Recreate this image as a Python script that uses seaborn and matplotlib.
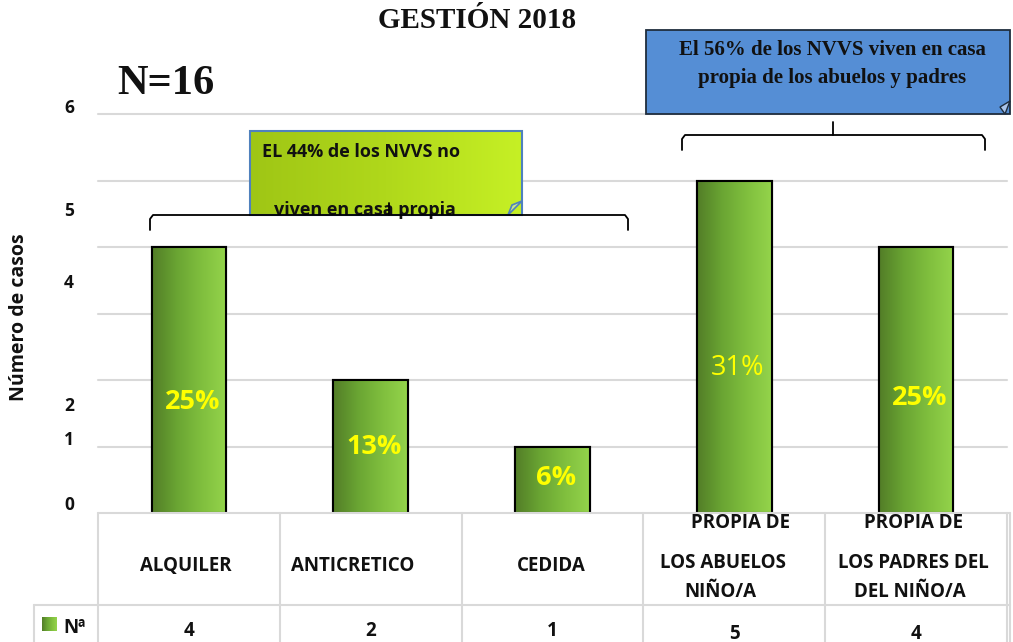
import numpy as np
import pandas as pd
import matplotlib
matplotlib.use("Agg")
import matplotlib.pyplot as plt
import seaborn as sns
from matplotlib.colors import LinearSegmentedColormap
from matplotlib.patches import Rectangle, Polygon
import matplotlib.transforms as mtrans

# ---- data ----
categories = ["ALQUILER", "ANTICRETICO", "CEDIDA",
              "PROPIA DE LOS ABUELOS NIÑO/A", "PROPIA DE LOS PADRES DEL DEL NIÑO/A"]
cat_label_lines = [["ALQUILER"], ["ANTICRETICO"], ["CEDIDA"],
                   ["PROPIA DE", "LOS ABUELOS", "NIÑO/A"],
                   ["PROPIA DE", "LOS PADRES DEL", "DEL NIÑO/A"]]
values = [4, 2, 1, 5, 4]
pct_labels = ["25%", "13%", "6%", "31%", "25%"]
ytick_labels = ["0", "1", "2", "4", "5", "6"]
title = "GESTIÓN 2018"
n_label = "N=16"
series_name = "Nª"
note_left = ["EL 44% de los NVVS no", "viven en casa propia"]
note_right = ["El 56% de los NVVS viven en casa", "propia de los abuelos y padres"]

df = pd.DataFrame({"cat": categories, "n": values})

sns.set_theme(style="white")
SANS = ['Open Sans', 'DejaVu Sans']
SERIF = ['Liberation Serif', 'DejaVu Serif']
plt.rcParams['font.family'] = SANS

W, H = 1013, 642
fig = plt.figure(figsize=(W / 100, H / 100), dpi=100)

def fx(px):
    return px / W

def fy(py):
    return 1 - py / H

ax_l, ax_r, ax_t, ax_b = 98, 1007, 114, 513
ax = fig.add_axes([fx(ax_l), fy(ax_b), fx(ax_r - ax_l), fy(ax_t) - fy(ax_b)])

sns.barplot(data=df, x="cat", y="n", ax=ax, width=0.41, color="#72ad38",
            edgecolor="black", linewidth=1.5, zorder=3)
ax.set_xlim(-0.5, len(categories) - 0.5)
ax.set_ylim(0, 6)
for v in range(1, 7):
    ax.axhline(v, color="#d9d9d9", lw=1.5, zorder=0, clip_on=False)
for s in ax.spines.values():
    s.set_visible(False)
ax.set_xlabel("")
ax.set_ylabel("")
ax.set_xticks([])
ax.set_yticks([])
# tick labels placed where the original shows them
ytick_pos = [0.12, 1.10, 1.61, 3.46, 4.54, 6.09]
tr = mtrans.blended_transform_factory(fig.transFigure, ax.transData)
for pos, lab in zip(ytick_pos, ytick_labels):
    ax.text(fx(69), pos, lab, transform=tr, ha="center", va="center", fontsize=12.5,
            fontweight="bold", color="#111111", clip_on=False)

# gradient fill for bars
cmap = LinearSegmentedColormap.from_list("g", ["#527d27", "#6aa533", "#80bf3e", "#94d44b"])
grad = np.linspace(0, 1, 256).reshape(1, -1)
for p in list(ax.patches):
    x0, y0 = p.get_x(), p.get_y()
    w, h = p.get_width(), p.get_height()
    im = ax.imshow(grad, cmap=cmap, aspect="auto", extent=[x0, x0 + w, y0, y0 + h],
                   zorder=3.5, origin="lower")
    im.set_clip_path(p)
    ax.add_patch(Rectangle((x0, y0), w, h, fill=False, ec="black", lw=1.5, zorder=4))
ax.set_xlim(-0.5, len(categories) - 0.5)
ax.set_ylim(0, 6)

# percentage labels
pct_y = [1.67, 1.0, 0.52, 2.18, 1.73]
for i, (lab, yv) in enumerate(zip(pct_labels, pct_y)):
    ax.text(i + 0.02, yv, lab, ha="center", va="center", color="#ffff00",
            fontsize=19.5, fontweight="normal" if i == 3 else "bold", zorder=5)

# overlay axes in pixel coordinates
ov = fig.add_axes([0, 0, 1, 1], zorder=10)
ov.set_xlim(0, W)
ov.set_ylim(H, 0)
ov.axis("off")
ov.patch.set_alpha(0)

# table
gc = "#d9d9d9"
cols = np.linspace(ax_l, ax_r, len(categories) + 1)
ov.plot([ax_l, ax_r + 3], [ax_b, ax_b], color=gc, lw=1.5)
ov.plot([34, ax_r + 3], [605, 605], color=gc, lw=1.5)
for xc in cols:
    ov.plot([xc, xc], [ax_b, H], color=gc, lw=1.5)
ov.plot([34, 34], [605, H], color=gc, lw=1.5)
ov.plot([ax_r + 3, ax_r + 3], [ax_b, H], color=gc, lw=1.5)

label_y = {1: [566], 3: [523, 563, 592]}
label_dx = [[-3], [-18], [-1], [6, -11, -14], [-3, -3, -6]]
for i, lines in enumerate(cat_label_lines):
    cx = (cols[i] + cols[i + 1]) / 2
    ys = label_y[len(lines)]
    for ln, yy, dx in zip(lines, ys, label_dx[i]):
        ov.text(cx + dx, yy, ln, ha="center", va="center",
                fontsize=13.5, fontweight="bold", color="#111111")
    ov.text(cx, 631 if i < 3 else 634, str(values[i]), ha="center", va="center",
            fontsize=13.5, fontweight="bold", color="#111111")

# legend key in table
lg = Rectangle((42, 617), 15, 14, transform=ov.transData)
ov.add_patch(lg)
imk = ov.imshow(grad, cmap=cmap, aspect="auto", extent=[42, 57, 631, 617], zorder=3)
imk.set_clip_path(lg)
lg.set_visible(False)
ov.text(63, 628, series_name, ha="left", va="center", fontsize=13.5, fontweight="bold", color="#111111")

# titles
ov.text(477, 21, title, ha="center", va="center", fontsize=21, fontweight="bold",
        family=SERIF, color="#111111")
ov.text(117, 84, n_label, ha="left", va="center", fontsize=30.5, fontweight="bold",
        family=SERIF, color="#111111")
ov.text(19, 317, "Número de casos", ha="center", va="center", rotation=90,
        fontsize=14, fontweight="bold", color="#111111")

# left note (green gradient box)
bx0, by0, bx1, by1 = 250, 131, 522, 215
ggrad = np.linspace(0, 1, 256).reshape(1, -1)
gcmap = LinearSegmentedColormap.from_list("y", ["#9fc615", "#b0d81b", "#c6f025"])
box = Rectangle((bx0, by0), bx1 - bx0, by1 - by0, transform=ov.transData,
                fc="none", ec="#4f81bd", lw=1.5, zorder=6)
ov.imshow(ggrad, cmap=gcmap, aspect="auto", extent=[bx0, bx1, by1, by0], zorder=5)
ov.add_patch(box)
ov.add_patch(Polygon([[bx1 - 14, by1], [bx1, by1 - 14], [bx1 - 10, by1 - 10]], closed=True,
                     fc="#c6e88a", ec="#4f81bd", lw=1.2, zorder=6))
ov.text(262, 152, note_left[0], ha="left", va="center", fontsize=13, fontweight="bold",
        color="#111111", zorder=7)
ov.text(274, 210, note_left[1], ha="left", va="center", fontsize=13, fontweight="bold",
        color="#111111", zorder=7)

# left brace
ov.plot([150, 150, 153, 625, 628, 628], [230, 219, 215, 215, 219, 230], color="black", lw=1.3, zorder=8)
ov.plot([389, 389], [215, 203], color="black", lw=1.3, zorder=8)

# right note (blue box)
rb = Rectangle((646, 30), 364, 84, transform=ov.transData, fc="#558ed5", ec="#1f2d3d",
               lw=1.3, zorder=5)
ov.add_patch(rb)
ov.add_patch(Polygon([[1005, 114], [1010, 101], [1000, 107]], closed=True,
                     fc="#a9c4ea", ec="#1f2d3d", lw=1.0, zorder=6))
ov.text(832, 50, note_right[0], ha="center", va="center", fontsize=15, fontweight="bold",
        family=SERIF, color="#111111", zorder=7)
ov.text(832, 78, note_right[1], ha="center", va="center", fontsize=15, fontweight="bold",
        family=SERIF, color="#111111", zorder=7)

# right brace
ov.plot([682, 682, 685, 982, 985, 985], [150, 139, 135, 135, 139, 150], color="black", lw=1.3, zorder=8)
ov.plot([833, 833], [135, 122], color="black", lw=1.3, zorder=8)

fig.savefig("out.png", dpi=100)
